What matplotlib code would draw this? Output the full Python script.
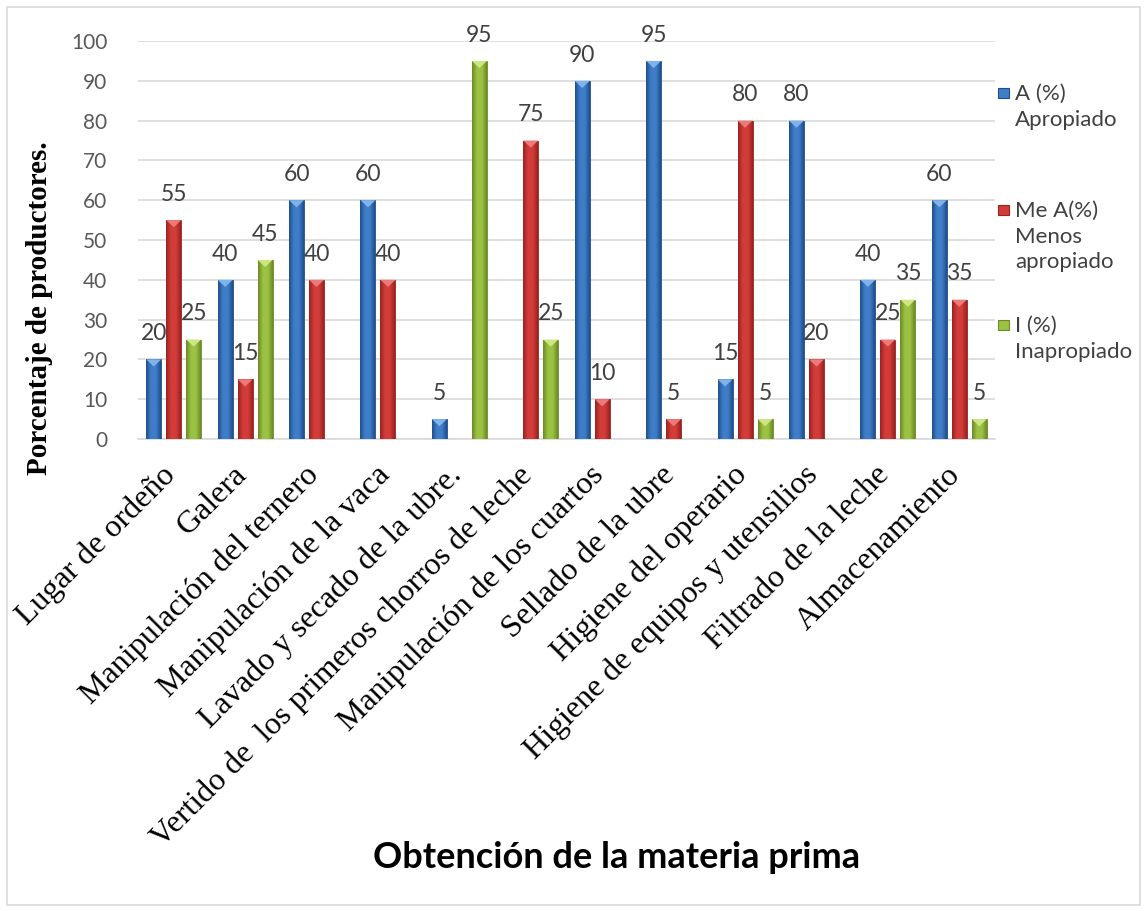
import matplotlib
matplotlib.use("Agg")
import matplotlib.pyplot as plt
import numpy as np
from matplotlib.patches import Rectangle, Polygon
from matplotlib.colors import LinearSegmentedColormap
from matplotlib.transforms import ScaledTranslation

categories = ["Lugar de ordeño", "Galera", "Manipulación del ternero",
              "Manipulación de la vaca", "Lavado y secado de la ubre.",
              "Vertido de  los primeros chorros de leche",
              "Manipulación de los cuartos", "Sellado de la ubre",
              "Higiene del operario", "Higiene de equipos y utensilios",
              "Filtrado de la leche", "Almacenamiento"]
apropiado = [20, 40, 60, 60, 5, 0, 90, 95, 15, 80, 40, 60]
menos_apropiado = [55, 15, 40, 40, 0, 75, 10, 5, 80, 20, 25, 35]
inapropiado = [25, 45, 0, 0, 95, 25, 0, 0, 5, 0, 35, 5]
series_names = ["A (%)\nApropiado", "Me A(%)\nMenos\napropiado", "I (%)\nInapropiado"]
yticks = list(range(0, 101, 10))

series = [apropiado, menos_apropiado, inapropiado]
palettes = [
    ("#1F4E8C", "#3F7DC8", "#7FB3EC"),
    ("#9A2220", "#D23C39", "#EC7A78"),
    ("#6A8A26", "#9BC243", "#CDE682"),
]

W, H = 1144, 911
fig = plt.figure(figsize=(W / 100, H / 100), dpi=100)
fig.patch.set_facecolor("white")
fig.patches.append(Rectangle((7 / W, 6 / H), (W - 11) / W, (H - 13) / H,
                             transform=fig.transFigure, fill=False,
                             edgecolor="#D9D9D9", linewidth=1.2))

ax = fig.add_axes([138 / W, 1 - 439 / H, (995 - 138) / W, (439 - 41) / H])
x = np.arange(len(categories))
bw = 0.21
offs = [-0.28, 0.0, 0.28]

for vals, off, (dark, mid, light) in zip(series, offs, palettes):
    cmap = LinearSegmentedColormap.from_list("g", [dark, mid, mid, dark])
    grad = np.linspace(0, 1, 64).reshape(1, -1)
    for xi, v in zip(x, vals):
        if v <= 0:
            continue
        x0 = xi + off - bw / 2
        rect = Rectangle((x0, 0), bw, v, facecolor=mid, edgecolor=dark,
                         linewidth=0.6, zorder=3)
        ax.add_patch(rect)
        im = ax.imshow(grad, extent=[x0, x0 + bw, 0, v], cmap=cmap,
                       aspect="auto", zorder=3.1, interpolation="bilinear")
        im.set_clip_path(rect)
        tri = Polygon([[x0, v], [x0 + bw, v], [x0 + bw / 2, v - 1.8]],
                      closed=True, facecolor=light, edgecolor="none", zorder=3.2)
        ax.add_patch(tri)
        ax.annotate(f"{v}", (xi + off, v), xytext=(0, 11), textcoords="offset points",
                    ha="center", va="bottom", fontsize=16.5, color="#404040",
                    family="Lato", zorder=5, annotation_clip=False)

ax.set_xlim(-0.5, len(categories) - 0.5)
ax.set_ylim(0, 100)
ax.set_yticks(yticks)
ax.set_yticklabels([str(t) for t in yticks], family="Lato", fontsize=15, color="#595959")
ax.yaxis.grid(True, color="#D9D9D9", linewidth=1.2, zorder=0)
ax.set_axisbelow(True)
for s in ["top", "right", "left"]:
    ax.spines[s].set_visible(False)
ax.spines["bottom"].set_color("#D9D9D9")
ax.spines["bottom"].set_linewidth(1.2)
ax.tick_params(axis="y", length=0, pad=22)
ax.tick_params(axis="x", length=0, pad=15.5)
ax.set_xticks(x)
ax.set_xticklabels(categories, rotation=45, ha="right", va="top",
                   rotation_mode="anchor", family="Liberation Serif", fontsize=23,
                   color="black")
shift = ScaledTranslation(-13 / 100, 0, fig.dpi_scale_trans)
for lbl in ax.get_xticklabels():
    lbl.set_transform(lbl.get_transform() + shift)

fig.text(40 / W, 1 - 308 / H, "Porcentaje de productores.", rotation=90,
         ha="center", va="center", family="Liberation Serif", fontsize=21,
         fontweight="bold")
fig.text(617 / W, 1 - 858 / H, "Obtención de la materia prima", ha="center",
         va="center", family="Lato", fontsize=26, fontweight="bold")

# legend
leg_y = [93, 210, 325]
for name, (dark, mid, light), yc in zip(series_names, palettes, leg_y):
    fig.patches.append(Rectangle((998 / W, 1 - (yc + 5) / H), 11 / W, 10 / H,
                                 transform=fig.transFigure, facecolor=mid,
                                 edgecolor=dark, linewidth=0.8))
    fig.text(1015 / W, 1 - (yc - 9) / H, name, ha="left", va="top",
             family="Lato", fontsize=16, color="#404040", linespacing=1.35)

fig.savefig("out.png", dpi=100)
